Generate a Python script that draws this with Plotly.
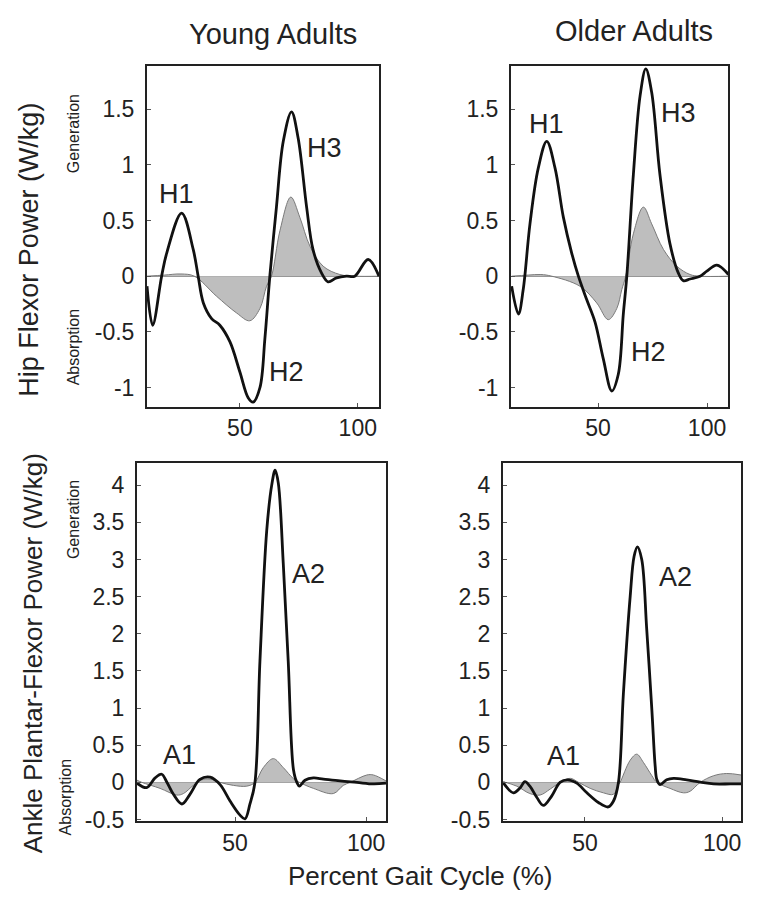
import plotly.graph_objects as go

# ---------------- data (W/kg vs percent gait cycle) ----------------
young_hip_x = [10.6, 13.0, 16.8, 19.0, 25.3, 30.2, 32.3, 34.5, 38.0, 41.5, 45.8, 50.0, 53.5, 55.6,
               58.5, 60.6, 62.7, 65.5, 68.4, 71.9, 74.7, 78.3, 81.0, 84.6, 87.4, 91.0, 95.2, 98.7,
               104.4, 109.0]
young_hip_total = [-0.09, -0.44, 0.0, 0.21, 0.566, 0.24, 0.0, -0.24, -0.38, -0.44, -0.59, -0.86,
                   -1.09, -1.13, -1.0, -0.56, 0.0, 0.62, 1.21, 1.475, 1.24, 0.62, 0.24, 0.03,
                   -0.05, -0.015, 0.0, 0.0, 0.15, 0.0]
young_hip_flex_x = [10.6, 18.0, 25.0, 30.7, 40.1, 48.6, 54.2, 58.5, 61.3, 63.4, 67.0, 71.6, 75.4,
                    79.7, 85.3, 92.4, 99.0, 109.0]
young_hip_flex = [0.0, 0.01, 0.02, 0.0, -0.18, -0.33, -0.40, -0.29, -0.09, 0.0, 0.41, 0.71, 0.53,
                  0.27, 0.09, 0.015, 0.0, 0.0]

older_hip_x = [10.4, 13.5, 15.7, 18.8, 22.6, 26.5, 30.3, 34.1, 37.9, 41.0, 44.8, 48.6, 52.4, 56.3,
               59.3, 61.6, 63.2, 66.2, 69.3, 71.9, 74.6, 78.4, 83.0, 86.8, 89.1, 92.2, 96.8, 99.9,
               104.5, 109.8]
older_hip_total = [-0.09, -0.34, -0.12, 0.47, 0.97, 1.21, 0.97, 0.53, 0.21, 0.0, -0.21, -0.41,
                   -0.74, -1.03, -0.88, -0.34, 0.0, 0.91, 1.62, 1.86, 1.65, 0.91, 0.29, 0.03,
                   -0.04, -0.025, 0.0, 0.045, 0.10, 0.015]
older_hip_flex_x = [10.4, 18.0, 23.8, 28.8, 41.7, 49.4, 54.7, 58.6, 60.9, 62.7, 66.2, 70.8, 74.6,
                    80.0, 86.1, 92.2, 96.8, 109.8]
older_hip_flex = [0.0, 0.01, 0.015, 0.0, -0.09, -0.24, -0.39, -0.29, -0.12, 0.0, 0.38, 0.62, 0.47,
                  0.24, 0.09, 0.015, 0.0, 0.0]

young_ankle_x = [12.6, 16.3, 19.5, 22.0, 23.9, 26.5, 29.7, 32.8, 36.6, 40.5, 44.3, 48.1, 51.9, 53.8,
                 55.7, 57.6, 59.5, 62.1, 64.0, 65.3, 66.5, 68.4, 70.3, 72.3, 73.6, 74.6, 76.7, 79.9,
                 83.7, 90.1, 96.5, 102.8, 107.6]
young_ankle_total = [-0.01, -0.07, 0.06, 0.11, 0.01, -0.16, -0.29, -0.16, 0.04, 0.07, -0.03, -0.25,
                     -0.44, -0.49, -0.29, 0.0, 1.63, 3.39, 4.0, 4.2, 4.03, 2.95, 1.63, 0.17, 0.0,
                     -0.05, 0.03, 0.06, 0.045, 0.02, 0.0, -0.02, -0.01]
young_ankle_pf_x = [12.6, 14.5, 21.4, 27.8, 30.3, 34.1, 37.3, 40.5, 44.3, 49.4, 54.5, 57.6, 60.8,
                    64.6, 68.4, 72.3, 74.6, 79.9, 87.5, 91.3, 93.9, 100.3, 102.8, 107.6]
young_ankle_pf = [0.03, 0.0, -0.08, -0.17, -0.15, -0.04, 0.035, 0.045, 0.0, -0.04, -0.05, 0.0, 0.2,
                  0.32, 0.2, 0.05, 0.0, -0.08, -0.15, -0.04, 0.0, 0.1, 0.1, 0.02]

older_ankle_x = [20.1, 23.9, 26.3, 28.1, 29.9, 32.4, 34.8, 37.9, 40.9, 43.6, 47.0, 50.7, 54.9, 58.5,
                 60.4, 62.2, 64.0, 66.5, 67.9, 69.1, 70.7, 72.5, 74.4, 75.6, 76.2, 77.4, 79.8, 82.3,
                 87.1, 92.0, 96.9, 103.0, 106.9]
older_ankle_total = [0.0, -0.14, -0.075, 0.01, -0.05, -0.2, -0.31, -0.18, 0.0, 0.035, -0.01, -0.14,
                     -0.27, -0.33, -0.25, 0.0, 1.19, 2.51, 3.04, 3.17, 3.0, 2.07, 0.97, 0.22, 0.04,
                     -0.03, 0.035, 0.055, 0.035, 0.005, -0.02, -0.02, -0.02]
older_ankle_pf_x = [20.1, 25.1, 29.9, 33.6, 37.3, 40.9, 44.6, 47.7, 51.9, 56.7, 60.4, 62.2, 62.8,
                    66.5, 68.9, 71.3, 74.4, 76.2, 81.0, 85.9, 88.3, 92.0, 96.9, 101.7, 106.9]
older_ankle_pf = [0.01, -0.05, -0.15, -0.17, -0.09, 0.0, 0.055, 0.0, -0.08, -0.14, -0.16, -0.03,
                  0.0, 0.3, 0.38, 0.27, 0.09, 0.0, -0.08, -0.14, -0.12, 0.0, 0.09, 0.12, 0.1]

col_titles = ["Young Adults", "Older Adults"]
row_titles = ["Hip Flexor Power (W/kg)", "Ankle Plantar-Flexor Power (W/kg)"]
x_title = "Percent Gait Cycle (%)"
x_ticks = [50, 100]
hip_ticks = [-1, -0.5, 0, 0.5, 1, 1.5]
ankle_ticks = [-0.5, 0, 0.5, 1, 1.5, 2, 2.5, 3, 3.5, 4]

# ---------------- layout helpers ----------------
W, H = 764, 913
FONT = "Liberation Sans, Arial, Helvetica, sans-serif"

def px_x(p):
    return p / W

def px_y(p):
    return 1 - p / H

panels = [
    ("", (147, 379), (67, 412), [10.6, 109.0], [-1.17, 1.885], hip_ticks,
     young_hip_x, young_hip_total, young_hip_flex_x, young_hip_flex),
    ("2", (511, 728), (67, 412), [10.1, 109.6], [-1.17, 1.885], hip_ticks,
     older_hip_x, older_hip_total, older_hip_flex_x, older_hip_flex),
    ("3", (137, 386), (469, 832), [12.6, 107.6], [-0.52, 4.3], ankle_ticks,
     young_ankle_x, young_ankle_total, young_ankle_pf_x, young_ankle_pf),
    ("4", (503, 741), (469, 832), [20.1, 106.9], [-0.52, 4.3], ankle_ticks,
     older_ankle_x, older_ankle_total, older_ankle_pf_x, older_ankle_pf),
]

fig = go.Figure()
layout = {}
for suf, xd, yd, xr, yr, yt, tx, ty, fx, fy in panels:
    xa = "x" + suf
    ya = "y" + suf
    fig.add_trace(go.Scatter(
        x=fx, y=fy, xaxis=xa, yaxis=ya, mode="lines",
        line=dict(color="#7a7a7a", width=1, shape="spline", smoothing=1.0),
        fill="tozeroy", fillcolor="#bebebe", showlegend=False, hoverinfo="skip"))
    fig.add_trace(go.Scatter(
        x=tx, y=ty, xaxis=xa, yaxis=ya, mode="lines",
        line=dict(color="#111111", width=2.8, shape="spline", smoothing=1.0),
        showlegend=False))
    layout["xaxis" + suf] = dict(
        domain=[px_x(xd[0]), px_x(xd[1])], range=xr, anchor=ya,
        tickmode="array", tickvals=x_ticks, ticktext=[str(v) for v in x_ticks],
        ticks="inside", ticklen=4, tickcolor="#555", showline=True, mirror=True,
        linecolor="#222", linewidth=2, showgrid=False, zeroline=False,
        tickfont=dict(family=FONT, size=23, color="#222"))
    layout["yaxis" + suf] = dict(
        domain=[px_y(yd[1]), px_y(yd[0])], range=yr, anchor=xa,
        tickmode="array", tickvals=yt, ticktext=[("%g" % v) for v in yt],
        ticks="inside", ticklen=4, tickcolor="#555", showline=True, mirror=True,
        linecolor="#222", linewidth=2, showgrid=False,
        zeroline=True, zerolinecolor="#8a8a8a", zerolinewidth=1,
        tickfont=dict(family=FONT, size=23, color="#222"), ticklabelstandoff=6)

fig.update_layout(**layout)

anns = []
def ann_px(text, x, y, size, angle=0):
    anns.append(dict(text=text, x=px_x(x), y=px_y(y), xref="paper", yref="paper",
                     showarrow=False, textangle=angle, xanchor="center", yanchor="middle",
                     font=dict(family=FONT, size=size, color="#222")))

ann_px(col_titles[0], 273, 34, 29)
ann_px(col_titles[1], 634, 31, 29)
ann_px(row_titles[0], 29, 253, 27, -90)
ann_px(row_titles[1], 33, 662, 26, -90)
ann_px(x_title, 420, 888, 26)
ann_px("Generation", 73, 136, 16, -90)
ann_px("Absorption", 73, 352, 16, -90)
ann_px("Generation", 73, 527, 16, -90)
ann_px("Absorption", 65, 808, 16, -90)

def ann_data(text, x, y, xa, ya):
    anns.append(dict(text=text, x=x, y=y, xref=xa, yref=ya, showarrow=False,
                     xanchor="center", yanchor="middle",
                     font=dict(family=FONT, size=27, color="#222")))

ann_data("H1", 23.2, 0.74, "x", "y")
ann_data("H2", 69.8, -0.86, "x", "y")
ann_data("H3", 86.0, 1.15, "x", "y")
ann_data("H1", 26.5, 1.37, "x2", "y2")
ann_data("H2", 73.1, -0.68, "x2", "y2")
ann_data("H3", 86.8, 1.46, "x2", "y2")
ann_data("A1", 29.0, 0.37, "x3", "y3")
ann_data("A2", 78.0, 2.8, "x3", "y3")
ann_data("A1", 42.1, 0.35, "x4", "y4")
ann_data("A2", 82.9, 2.77, "x4", "y4")

fig.update_layout(
    width=W, height=H, margin=dict(l=0, r=0, t=0, b=0),
    paper_bgcolor="white", plot_bgcolor="white", annotations=anns,
    font=dict(family=FONT))

fig.write_html("out.html", config={"displayModeBar": False},
               post_script="document.body.style.margin='0';document.body.style.overflow='hidden';")
